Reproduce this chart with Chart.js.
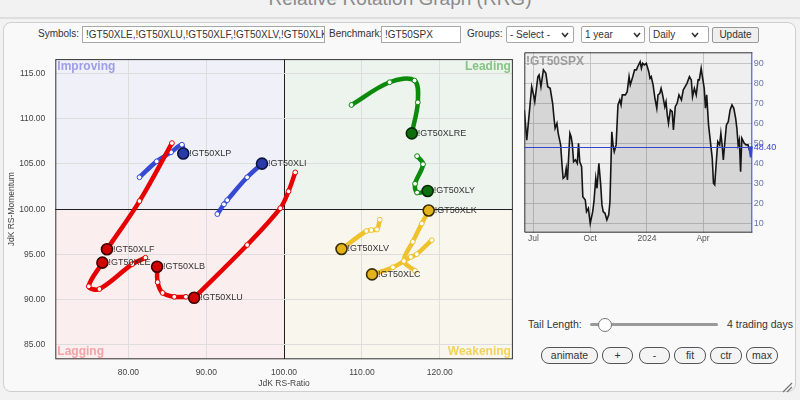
<!DOCTYPE html>
<html>
<head>
<meta charset="utf-8">
<title>Relative Rotation Graph (RRG)</title>
<script src="https://cdn.jsdelivr.net/npm/chart.js@4.4.1/dist/chart.umd.min.js"></script>
<style>
  body { margin: 0; width: 800px; height: 400px; overflow: hidden; background: #f2f2f2;
         font-family: Arial, "Liberation Sans", sans-serif; color: #333; position: relative; }
  .abs { position: absolute; }
  #pageTitle { left: 0; top: -11px; width: 800px; text-align: center; font-size: 19px; line-height: 19px; color: #8a8a8a; }
  #rule { left: 0; top: 17px; width: 800px; height: 2px; background: #dedede; }
  #panel { left: 3px; top: 22px; width: 793px; height: 370px; box-sizing: border-box;
           border: 1px solid #cfcfcf; border-radius: 8px; background: #f9f9f9; }
  .lbl { font-size: 10px; line-height: 12px; white-space: nowrap; }
  .box { box-sizing: border-box; top: 26px; height: 17px; border: 1px solid #a8a8a8; background: #fff;
         font-size: 10px; line-height: 15px; padding-left: 3px; overflow: hidden; white-space: nowrap; }
  .sel { border-radius: 2px; }
  .sel svg { position: absolute; top: 5px; }
  .btn { box-sizing: border-box; top: 347px; height: 16.5px; border: 1px solid #555; border-radius: 8px;
         background: #f4f4f4; font-size: 10.5px; line-height: 14px; text-align: center; }
</style>
</head>
<body>
<div id="pageTitle" class="abs">Relative Rotation Graph (RRG)</div>
<div id="rule" class="abs"></div>
<div id="panel" class="abs"></div>

<div class="abs lbl" style="left:38px;top:28px">Symbols:</div>
<div class="abs box" style="left:82px;width:243px">!GT50XLE,!GT50XLU,!GT50XLF,!GT50XLV,!GT50XLK,!GT50XLC,!GT50XLY,!GT50XLRE,!GT50XLI,!GT50XLB,!GT50XLP</div>
<div class="abs lbl" style="left:329px;top:28px">Benchmark:</div>
<div class="abs box" style="left:381px;width:80px">!GT50SPX</div>
<div class="abs lbl" style="left:467px;top:28px">Groups:</div>
<div class="abs box sel" style="left:506px;width:68px">- Select -<svg width="8" height="6" style="left:54px"><polyline points="1,1 4,4.5 7,1" fill="none" stroke="#333" stroke-width="1.6"/></svg></div>
<div class="abs box sel" style="left:581px;width:64px">1 year<svg width="8" height="6" style="left:51px"><polyline points="1,1 4,4.5 7,1" fill="none" stroke="#333" stroke-width="1.6"/></svg></div>
<div class="abs box sel" style="left:649px;width:60px">Daily<svg width="8" height="6" style="left:41px"><polyline points="1,1 4,4.5 7,1" fill="none" stroke="#333" stroke-width="1.6"/></svg></div>
<div class="abs box" style="left:712px;width:47px;height:16px;top:27px;background:#efefef;border-color:#999;border-radius:2px;text-align:center;padding:0;line-height:14px">Update</div>

<canvas id="rrg" class="abs" width="520" height="350" style="left:0;top:44px"></canvas>
<canvas id="spx" class="abs" width="285" height="210" style="left:515px;top:44px"></canvas>
<div class="abs" style="left:526px;top:54px;font-size:12px;font-weight:bold;color:#9c9c9c">!GT50SPX</div>

<div class="abs" style="left:528px;top:318px;font-size:10.5px;line-height:13px">Tail Length:</div>
<div class="abs" style="left:590px;top:323px;width:128px;height:3px;border-radius:2px;background:#9a9a9a"></div>
<div class="abs" style="left:598px;top:318px;width:12px;height:12px;border-radius:7px;border:1px solid #777;background:#fff"></div>
<div class="abs" style="left:727px;top:318px;font-size:10.5px;line-height:13px">4 trading days</div>

<div class="abs btn" style="left:541px;width:57px">animate</div>
<div class="abs btn" style="left:602px;width:31px">+</div>
<div class="abs btn" style="left:639px;width:31px">-</div>
<div class="abs btn" style="left:674px;width:32px">fit</div>
<div class="abs btn" style="left:710px;width:32px">ctr</div>
<div class="abs btn" style="left:746px;width:32px">max</div>
<svg class="abs" style="left:780px;top:380px" width="14" height="14">
  <line x1="3" y1="12" x2="12" y2="3" stroke="#777" stroke-width="1.2"/>
  <line x1="7" y1="12" x2="12" y2="7" stroke="#777" stroke-width="1.2"/>
</svg>

<script>
'use strict';

// RRG tails, oldest point first, head (latest) last

let xleRatio = [82.18, 80.49, 76.27, 74.90, 76.65];
let xleMomentum = [94.63, 93.92, 91.17, 91.47, 94.09];

let xluRatio = [101.43, 100.57, 99.51, 95.25, 88.44];
let xluMomentum = [104.07, 101.98, 100.11, 96.04, 90.20];

let xlfRatio = [85.59, 81.42, 77.24];
let xlfMomentum = [107.31, 100.90, 95.57];

let xlvRatio = [112.29, 111.94, 111.21, 110.57, 107.38];
let xlvMomentum = [98.84, 97.76, 97.70, 97.59, 95.60];

let xlkRatio = [116.83, 115.39, 116.54, 117.69, 118.58];
let xlkMomentum = [93.19, 94.27, 96.40, 98.41, 99.86];

let xlcRatio = [118.97, 117.05, 116.28, 113.98, 111.30];
let xlcMomentum = [96.58, 95.03, 94.71, 93.57, 92.79];

let xlyRatio = [117.09, 117.85, 116.83, 117.09, 118.45];
let xlyMomentum = [105.87, 104.97, 102.81, 101.84, 102.02];

let xlreRatio = [108.66, 113.56, 116.76, 117.18, 116.41];
let xlreMomentum = [111.53, 114.04, 114.23, 111.81, 108.39];

let xliRatio = [91.42, 92.27, 92.69, 95.25, 97.16];
let xliMomentum = [99.46, 100.54, 101.00, 103.53, 105.04];

let xlbRatio = [87.38, 85.89, 84.39, 83.75, 83.68];
let xlbMomentum = [90.31, 90.31, 90.74, 91.93, 93.63];

let xlpRatio = [81.42, 83.63, 85.47, 86.87, 87.04];
let xlpMomentum = [103.53, 105.29, 106.30, 107.13, 106.16];

let ratioTicks = [80, 90, 100, 110, 120];
let momentumTicks = [85, 90, 95, 100, 105, 110, 115];

// benchmark panel: days since 2023-06-16 and value
let spxDays = [0, 4, 9, 12, 15, 17, 22, 24, 27, 31, 35, 38, 42, 46, 48, 50, 53, 55, 59, 61,
  63, 66, 68, 70, 74, 76, 78, 80, 83, 86, 88, 90, 93, 95, 99, 101, 104, 107, 111, 113,
  116, 118, 121, 124, 126, 128, 131, 134, 137, 139, 142, 144, 146, 149, 152, 155, 157, 159, 164, 167,
  170, 172, 176, 179, 182, 184, 188, 190, 192, 195, 198, 202, 204, 206, 209, 212, 215, 217, 220, 222,
  224, 228, 230, 232, 234, 237, 240, 242, 245, 248, 251, 255, 258, 261, 264, 268, 271, 273, 276, 279,
  282, 284, 287, 289, 292, 294, 296, 299, 302, 305, 307, 309, 312, 314, 317, 319, 321, 323, 326, 328,
  331, 334, 337, 340, 343, 345, 347, 349, 351, 353, 357, 360, 363, 366, 369];
let spxValues = [66.7, 51.6, 68.3, 78.3, 74.2, 70.8, 83.3, 84.2, 78.3, 86.7, 85.0, 78.3, 77.5, 70.0, 63.3, 57.5, 60.0, 55.0, 49.2, 40.0,
  32.5, 33.3, 37.5, 31.7, 55.0, 53.3, 49.2, 40.8, 41.7, 40.0, 50.0, 40.8, 38.3, 23.3, 21.6, 15.8, 17.5, 10.0, 15.8, 20.8,
  32.5, 27.5, 40.0, 29.2, 19.2, 15.8, 15.0, 11.7, 14.2, 20.8, 55.8, 49.2, 45.8, 49.2, 69.2, 71.7, 69.2, 74.2, 74.2, 75.8,
  83.3, 79.2, 83.3, 86.7, 86.7, 88.3, 90.8, 87.5, 90.0, 89.2, 90.0, 85.8, 82.5, 83.3, 79.2, 72.5, 67.5, 74.2, 75.0, 77.5,
  75.0, 68.3, 70.8, 64.2, 60.0, 66.7, 65.8, 56.7, 68.3, 70.0, 74.2, 71.7, 76.7, 78.3, 80.0, 83.3, 81.7, 73.3, 77.5, 74.2,
  81.7, 81.7, 87.5, 83.3, 77.5, 67.5, 74.2, 59.2, 50.8, 42.5, 30.0, 29.2, 42.5, 50.8, 49.2, 55.0, 49.2, 41.7, 52.5, 59.2,
  60.8, 66.7, 69.2, 67.5, 62.5, 57.5, 49.2, 51.7, 35.8, 52.5, 50.0, 49.2, 49.2, 45.8, 48.4];
let spxTickDays = [15, 107, 199, 290];
let spxTickLabels = ['Jul', 'Oct', '2024', 'Apr'];
let spxTicks = [10, 20, 30, 40, 50, 60, 70, 80, 90];

let tails = [
  ['!GT50XLE', xleRatio, xleMomentum],
  ['!GT50XLF', xlfRatio, xlfMomentum],
  ['!GT50XLP', xlpRatio, xlpMomentum],
  ['!GT50XLU', xluRatio, xluMomentum],
  ['!GT50XLB', xlbRatio, xlbMomentum],
  ['!GT50XLI', xliRatio, xliMomentum],
  ['!GT50XLV', xlvRatio, xlvMomentum],
  ['!GT50XLK', xlkRatio, xlkMomentum],
  ['!GT50XLC', xlcRatio, xlcMomentum],
  ['!GT50XLY', xlyRatio, xlyMomentum],
  ['!GT50XLRE', xlreRatio, xlreMomentum]
];

Chart.defaults.font.family = 'Arial, "Liberation Sans", sans-serif';

// colour of a tail follows the quadrant its head is in
function quadrantColors(r, m) {
  if (r >= 100 && m >= 100) return { line: '#0b8a0b', head: '#0e6e0e', edge: '#062a06' };
  if (r >= 100) return { line: '#efc22c', head: '#e4b31c', edge: '#3a2e00' };
  if (m >= 100) return { line: '#3549d2', head: '#2a3aa8', edge: '#0c1440' };
  return { line: '#e60000', head: '#d20000', edge: '#3a0000' };
}

let rrgDatasets = [];
for (let i = 0; i < tails.length; i++) {
  let name = tails[i][0];
  let ratio = tails[i][1];
  let mom = tails[i][2];
  let last = ratio.length - 1;
  let c = quadrantColors(ratio[last], mom[last]);
  let pts = [];
  let radius = [];
  let fills = [];
  let edges = [];
  let widths = [];
  for (let j = 0; j < ratio.length; j++) {
    pts.push({ x: ratio[j], y: mom[j] });
    radius.push(j === last ? 5.5 : 2.4);
    fills.push(j === last ? c.head : '#ffffff');
    edges.push(j === last ? c.edge : c.line);
    widths.push(j === last ? 1.6 : 1);
  }
  rrgDatasets.push({
    label: name,
    data: pts,
    showLine: true,
    borderColor: c.line,
    borderWidth: 4.5,
    tension: 0.35,
    pointRadius: radius,
    pointBackgroundColor: fills,
    pointBorderColor: edges,
    pointBorderWidth: widths
  });
}

let rrgDecor = {
  id: 'rrgDecor',
  beforeDraw(chart) {
    let { ctx, chartArea: a, scales: { x, y } } = chart;
    let cx = x.getPixelForValue(100);
    let cy = y.getPixelForValue(100);
    ctx.save();
    ctx.fillStyle = '#eff0f8';
    ctx.fillRect(a.left, a.top, cx - a.left, cy - a.top);
    ctx.fillStyle = '#edf3ed';
    ctx.fillRect(cx, a.top, a.right - cx, cy - a.top);
    ctx.fillStyle = '#fbeeee';
    ctx.fillRect(a.left, cy, cx - a.left, a.bottom - cy);
    ctx.fillStyle = '#f9f6ee';
    ctx.fillRect(cx, cy, a.right - cx, a.bottom - cy);
    ctx.restore();
  },
  beforeDatasetsDraw(chart) {
    let { ctx, chartArea: a } = chart;
    ctx.save();
    ctx.font = 'bold 12px Arial, "Liberation Sans", sans-serif';
    ctx.textBaseline = 'alphabetic';
    ctx.textAlign = 'left';
    ctx.fillStyle = '#9d9de8';
    ctx.fillText('Improving', a.left + 2, a.top + 11);
    ctx.fillStyle = '#f2a4a8';
    ctx.fillText('Lagging', a.left + 2, a.bottom - 4.5);
    ctx.textAlign = 'right';
    ctx.fillStyle = '#84c484';
    ctx.fillText('Leading', a.right - 2, a.top + 11);
    ctx.fillStyle = '#f1d35c';
    ctx.fillText('Weakening', a.right - 2, a.bottom - 4.5);
    ctx.strokeStyle = '#333';
    ctx.lineWidth = 1;
    ctx.strokeRect(a.left + 0.5, a.top + 0.5, a.width - 1, a.height - 1);
    ctx.restore();
  },
  afterDatasetsDraw(chart) {
    let ctx = chart.ctx;
    ctx.save();
    ctx.font = '9px Arial, "Liberation Sans", sans-serif';
    ctx.fillStyle = '#333';
    ctx.textAlign = 'left';
    ctx.textBaseline = 'middle';
    chart.data.datasets.forEach((ds, i) => {
      let pts = chart.getDatasetMeta(i).data;
      let head = pts[pts.length - 1];
      ctx.fillText(ds.label, head.x + 6, head.y);
    });
    ctx.restore();
  }
};

function gridColor(ctx) {
  return ctx.tick && ctx.tick.value === 100 ? '#1e1e1e' : '#dddddd';
}

new Chart(document.getElementById('rrg'), {
  type: 'scatter',
  data: { datasets: rrgDatasets },
  options: {
    responsive: false,
    animation: false,
    layout: { padding: { left: 0, top: 8, right: 5, bottom: 0 } },
    plugins: { legend: { display: false }, tooltip: { enabled: false } },
    scales: {
      x: {
        type: 'linear', min: 70.6, max: 129.4,
        afterBuildTicks: axis => { axis.ticks = ratioTicks.map(v => ({ value: v })); },
        afterFit: axis => { axis.height = 34.7; },
        ticks: { callback: v => v.toFixed(2), font: { size: 8.5 }, color: '#444', padding: 8.5, maxRotation: 0, autoSkip: false },
        grid: { color: gridColor, lineWidth: 1, drawTicks: false },
        border: { display: false },
        title: { display: true, text: 'JdK RS-Ratio', font: { size: 8.5 }, color: '#444', padding: { top: 0, bottom: 5.6 } }
      },
      y: {
        type: 'linear', min: 83.4, max: 116.6,
        afterBuildTicks: axis => { axis.ticks = momentumTicks.map(v => ({ value: v })); },
        afterFit: axis => { axis.width = 55.3; },
        ticks: { callback: v => v.toFixed(2), font: { size: 8.5 }, color: '#444', padding: 10 },
        grid: { color: gridColor, lineWidth: 1, drawTicks: false },
        border: { display: false },
        title: { display: true, text: 'JdK RS-Momentum', font: { size: 8.5 }, color: '#444', padding: { top: 6.4, bottom: 0 } }
      }
    }
  },
  plugins: [rrgDecor]
});

// benchmark mini chart

let spxDecor = {
  id: 'spxDecor',
  beforeDraw(chart) {
    let { ctx, chartArea: a } = chart;
    ctx.save();
    ctx.fillStyle = '#efefef';
    ctx.fillRect(a.left, a.top, a.width, a.height);
    ctx.restore();
  },
  afterDatasetsDraw(chart) {
    let { ctx, chartArea: a, scales: { y } } = chart;
    let lastVal = spxValues[spxValues.length - 1];
    let ly = y.getPixelForValue(lastVal);
    ctx.save();
    ctx.strokeStyle = '#333';
    ctx.lineWidth = 1;
    ctx.beginPath();
    ctx.moveTo(a.right, a.top + 0.5);
    ctx.lineTo(a.left + 0.5, a.top + 0.5);
    ctx.lineTo(a.left + 0.5, a.bottom - 0.5);
    ctx.lineTo(a.right, a.bottom - 0.5);
    ctx.stroke();
    ctx.strokeStyle = '#3446cc';
    ctx.beginPath();
    ctx.moveTo(a.right - 0.5, a.top);
    ctx.lineTo(a.right - 0.5, a.bottom);
    ctx.moveTo(a.left, Math.round(ly) + 0.5);
    ctx.lineTo(a.right, Math.round(ly) + 0.5);
    ctx.stroke();
    ctx.fillStyle = '#3446cc';
    ctx.beginPath();
    ctx.moveTo(a.right - 4, ly);
    ctx.lineTo(a.right + 0.5, ly);
    ctx.lineTo(a.right - 0.5, ly + 11);
    ctx.lineTo(a.right - 2.5, ly + 11);
    ctx.closePath();
    ctx.fill();
    ctx.font = '9px Arial, "Liberation Sans", sans-serif';
    ctx.textAlign = 'left';
    ctx.textBaseline = 'middle';
    ctx.fillText(lastVal.toFixed(2), a.right + 1.5, ly + 1.5);
    ctx.restore();
  }
};

let spxPoints = [];
for (let i = 0; i < spxDays.length; i++) {
  spxPoints.push({ x: spxDays[i], y: spxValues[i] });
}

new Chart(document.getElementById('spx'), {
  type: 'line',
  data: {
    datasets: [{
      data: spxPoints,
      borderColor: '#151515',
      borderWidth: 1.6,
      backgroundColor: 'rgba(0,0,0,0.1)',
      fill: 'start',
      pointRadius: 0,
      tension: 0
    }]
  },
  options: {
    responsive: false,
    animation: false,
    layout: { padding: { left: 9.3, top: 8.3, right: 0, bottom: 0 } },
    plugins: { legend: { display: false }, tooltip: { enabled: false } },
    scales: {
      x: {
        type: 'linear', min: 0, max: 370,
        afterBuildTicks: axis => { axis.ticks = spxTickDays.map(v => ({ value: v })); },
        afterFit: axis => { axis.height = 21.3; },
        ticks: { callback: (v, i) => spxTickLabels[i], font: { size: 8.5 }, color: '#555', padding: 1, maxRotation: 0, autoSkip: false },
        grid: { color: '#c4c4c4', drawTicks: false },
        border: { display: false }
      },
      y: {
        position: 'right', min: 5.3, max: 95.5,
        afterBuildTicks: axis => { axis.ticks = spxTicks.map(v => ({ value: v })); },
        afterFit: axis => { axis.width = 47.7; },
        ticks: { font: { size: 9 }, color: '#6874b0', padding: 1.5 },
        grid: { color: '#c4c4c4', drawTicks: false },
        border: { display: false }
      }
    }
  },
  plugins: [spxDecor]
});
</script>
</body>
</html>
